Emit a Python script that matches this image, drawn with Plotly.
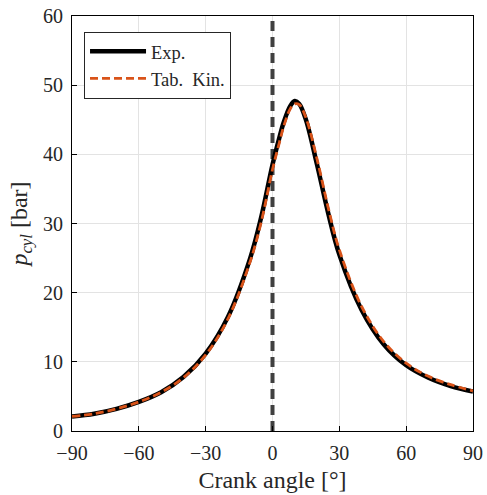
import plotly.graph_objects as go

crank = [-90, -80, -70, -60, -50, -40, -30, -20, -10, -5, 0, 3, 5, 8, 10, 12, 15, 20, 25, 30, 40, 50, 60, 70, 80, 90]
p_exp = [2.1, 2.5, 3.2, 4.2, 5.6, 7.8, 11.2, 16.5, 25.0, 31.0, 38.5, 42.3, 44.6, 47.0, 47.7, 47.3, 45.0, 38.5, 31.5, 25.5, 17.5, 12.5, 9.5, 7.7, 6.5, 5.7]
p_tab = [2.1, 2.5, 3.2, 4.2, 5.6, 7.7, 11.0, 16.2, 24.5, 30.3, 37.8, 41.6, 44.0, 46.6, 47.3, 47.2, 45.3, 39.3, 32.3, 26.2, 18.0, 12.9, 9.8, 7.9, 6.7, 5.8]
x_ticks = [-90, -60, -30, 0, 30, 60, 90]
y_ticks = [0, 10, 20, 30, 40, 50, 60]
tdc_x = [0, 0]
tdc_y = [0, 60]

font = "Liberation Serif"
txt = "#262626"

fig = go.Figure()
fig.add_trace(go.Scatter(x=tdc_x, y=tdc_y, mode="lines", showlegend=False, hoverinfo="skip",
                         line=dict(color="#404040", width=4, dash="10px,6px")))
fig.add_trace(go.Scatter(x=crank, y=p_exp, mode="lines", name="Exp.",
                         line=dict(color="black", width=4.5, shape="spline")))
fig.add_trace(go.Scatter(x=crank, y=p_tab, mode="lines", name="Tab.  Kin.",
                         line=dict(color="#D95319", width=2.8, dash="8px,4px", shape="spline")))

axis_common = dict(showline=True, linecolor="black", linewidth=1, mirror=True,
                   ticks="inside", ticklen=5, tickcolor="black",
                   showgrid=True, gridcolor="#E3E3E3", gridwidth=1, zeroline=False,
                   automargin=False,
                   tickfont=dict(family=font, size=20, color=txt))

fig.update_xaxes(range=[-90, 90], tickvals=x_ticks, ticklabelstandoff=4,
                 title=dict(text="Crank angle [°]", font=dict(family=font, size=24, color=txt), standoff=8),
                 **axis_common)
fig.update_yaxes(range=[0, 60], tickvals=y_ticks, ticklabelstandoff=4,
                 title=dict(text="<i>p</i><sub><i>cyl</i></sub> [bar]", font=dict(family=font, size=24, color=txt), standoff=8),
                 **axis_common)

fig.update_layout(
    width=487, height=495,
    margin=dict(l=72, r=14, t=16, b=64),
    plot_bgcolor="white", paper_bgcolor="white",
    legend=dict(x=0.03, y=0.962, xanchor="left", yanchor="top",
                bgcolor="white", bordercolor=txt, borderwidth=1,
                font=dict(family=font, size=18.5, color=txt),
                itemwidth=56, tracegroupgap=0),
)

fig.write_html("out.html")
